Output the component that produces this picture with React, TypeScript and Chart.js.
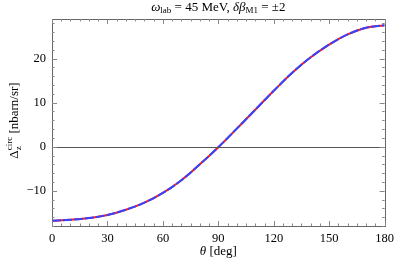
import React, { useEffect, useRef } from "react";
import { Chart, registerables } from "chart.js";

Chart.register(...registerables);

// ---- data ----
const thetaDeg = [0, 10, 20, 30, 40, 50, 60, 70, 80, 90, 100, 110, 120, 130, 140, 150, 160, 170, 180];
const deltaMinus2 = [-16.8, -16.6, -16.2, -15.5, -14.3, -12.7, -10.5, -7.6, -4.0, -0.1, 4.1, 8.4, 12.7, 16.8, 20.3, 23.2, 25.5, 27.0, 27.6];
const deltaPlus2 = [-16.8, -16.6, -16.2, -15.5, -14.3, -12.7, -10.5, -7.6, -4.0, -0.1, 4.1, 8.4, 12.7, 16.8, 20.3, 23.2, 25.5, 27.0, 27.6];
const xTickValues = [0, 30, 60, 90, 120, 150, 180];
const yTickValues = [-10, 0, 10, 20];
const xMinorStep = 5;
const yMinorStep = 2;
const xRange = [0, 180];
const yRange = [-18, 29];

const SERIF = "'Liberation Serif', 'DejaVu Serif', serif";

type Part = { text: string; size: number; italic?: boolean; dy?: number; noAdvance?: boolean };

function partsWidth(ctx: CanvasRenderingContext2D, parts: Part[]) {
  let w = 0;
  let pendingMax = 0;
  for (const p of parts) {
    ctx.font = `${p.italic ? "italic " : ""}${p.size}px ${SERIF}`;
    const tw = ctx.measureText(p.text).width;
    if (p.noAdvance) pendingMax = Math.max(pendingMax, tw);
    else {
      w += Math.max(tw, pendingMax);
      pendingMax = 0;
    }
  }
  return w;
}

function drawParts(ctx: CanvasRenderingContext2D, parts: Part[], cx: number, cy: number) {
  const total = partsWidth(ctx, parts);
  let x = cx - total / 2;
  ctx.textBaseline = "middle";
  ctx.textAlign = "left";
  ctx.fillStyle = "#000";
  let pendingMax = 0;
  for (const p of parts) {
    ctx.font = `${p.italic ? "italic " : ""}${p.size}px ${SERIF}`;
    const w = ctx.measureText(p.text).width;
    ctx.fillText(p.text, x, cy + (p.dy || 0));
    if (p.noAdvance) {
      pendingMax = Math.max(pendingMax, w);
    } else {
      x += Math.max(w, pendingMax);
      pendingMax = 0;
    }
  }
}

const titleParts: Part[] = [
  { text: "ω", size: 13, italic: true },
  { text: "lab", size: 9, dy: 3 },
  { text: " = 45 MeV, ", size: 13 },
  { text: "δβ", size: 13, italic: true },
  { text: "M1", size: 9, dy: 3 },
  { text: " = ±2", size: 13 },
];
const xLabelParts: Part[] = [
  { text: "θ", size: 13, italic: true },
  { text: " [deg]", size: 13 },
];
const yLabelParts: Part[] = [
  { text: "Δ", size: 13 },
  { text: "circ", size: 9, dy: -5, noAdvance: true },
  { text: "z", size: 9, dy: 4 },
  { text: " [nbarn/sr]", size: 13 },
];

const framePlugin = {
  id: "framePlugin",
  afterDraw(chart: any) {
    const { ctx, chartArea, scales } = chart;
    const { left, right, top, bottom } = chartArea;
    const xs = scales.x;
    const ys = scales.y;
    ctx.save();
    // zero line
    const y0 = Math.round(ys.getPixelForValue(0)) + 0.5;
    ctx.strokeStyle = "#555";
    ctx.lineWidth = 1;
    ctx.beginPath();
    ctx.moveTo(left, y0);
    ctx.lineTo(right, y0);
    ctx.stroke();
    // frame
    ctx.strokeStyle = "#666";
    ctx.strokeRect(Math.round(left) + 0.5, Math.round(top) + 0.5, Math.round(right - left), Math.round(bottom - top));
    ctx.strokeStyle = "#888";
    // x ticks
    for (let v = xRange[0]; v <= xRange[1] + 1e-9; v += xMinorStep) {
      const major = xTickValues.includes(v);
      const len = major ? 5 : 2.5;
      const px = Math.round(xs.getPixelForValue(v)) + 0.5;
      ctx.beginPath();
      ctx.moveTo(px, bottom);
      ctx.lineTo(px, bottom - len);
      ctx.moveTo(px, top);
      ctx.lineTo(px, top + len);
      ctx.stroke();
    }
    // y ticks
    for (let v = -18; v <= yRange[1] + 1e-9; v += yMinorStep) {
      const major = yTickValues.includes(v);
      const len = major ? 5 : 2.5;
      const py = Math.round(ys.getPixelForValue(v)) + 0.5;
      ctx.beginPath();
      ctx.moveTo(left, py);
      ctx.lineTo(left + len, py);
      ctx.moveTo(right, py);
      ctx.lineTo(right - len, py);
      ctx.stroke();
    }
    // titles
    const cx = (left + right) / 2;
    drawParts(ctx, titleParts, cx, 8);
    drawParts(ctx, xLabelParts, cx, 252);
    ctx.translate(15, (top + bottom) / 2 - 2);
    ctx.rotate(-Math.PI / 2);
    drawParts(ctx, yLabelParts, 0, 0);
    ctx.restore();
  },
};

export default function App() {
  const ref = useRef<HTMLCanvasElement | null>(null);
  useEffect(() => {
    document.body.style.margin = "0";
    const canvas = ref.current!;
    const chart = new Chart(canvas, {
      type: "line",
      data: {
        labels: thetaDeg,
        datasets: [
          {
            label: "δβM1 = +2",
            data: thetaDeg.map((t, i) => ({ x: t, y: deltaPlus2[i] })),
            borderColor: "#ff1a1a",
            borderWidth: 2,
            pointRadius: 0,
            tension: 0.4,
            order: 2,
          },
          {
            label: "δβM1 = −2",
            data: thetaDeg.map((t, i) => ({ x: t, y: deltaMinus2[i] })),
            borderColor: "#3344ff",
            borderWidth: 2,
            borderDash: [9, 2],
            pointRadius: 0,
            tension: 0.4,
            order: 1,
          },
        ],
      },
      options: {
        animation: false,
        responsive: false,
        devicePixelRatio: 1,
        layout: { padding: { top: 19, right: 11, left: 0, bottom: 0 } },
        plugins: { legend: { display: false }, tooltip: { enabled: false }, title: { display: false } },
        scales: {
          x: {
            type: "linear",
            min: xRange[0],
            max: xRange[1],
            grid: { display: false, drawTicks: false },
            border: { display: false },
            afterBuildTicks: (s: any) => {
              s.ticks = xTickValues.map((v) => ({ value: v }));
            },
            afterFit: (s: any) => {
              s.height = 34;
            },
            ticks: {
              padding: 5,
              maxRotation: 0,
              autoSkip: false,
              color: "#000",
              font: { family: SERIF, size: 12.5 },
              callback: (v: any) => String(v),
            },
          },
          y: {
            type: "linear",
            min: yRange[0],
            max: yRange[1],
            grid: { display: false, drawTicks: false },
            border: { display: false },
            afterBuildTicks: (s: any) => {
              s.ticks = yTickValues.map((v) => ({ value: v }));
            },
            afterFit: (s: any) => {
              s.width = 52;
            },
            ticks: {
              padding: 6,
              autoSkip: false,
              color: "#000",
              font: { family: SERIF, size: 12.5 },
              callback: (v: any) => (v < 0 ? "−" + Math.abs(v) : String(v)),
            },
          },
        },
      },
      plugins: [framePlugin],
    } as any);
    return () => chart.destroy();
  }, []);
  return (
    <div style={{ position: "absolute", left: 0, top: 0, width: 399, height: 260, background: "#fff" }}>
      <canvas ref={ref} width={399} height={260} style={{ width: 399, height: 260, display: "block" }} />
    </div>
  );
}
